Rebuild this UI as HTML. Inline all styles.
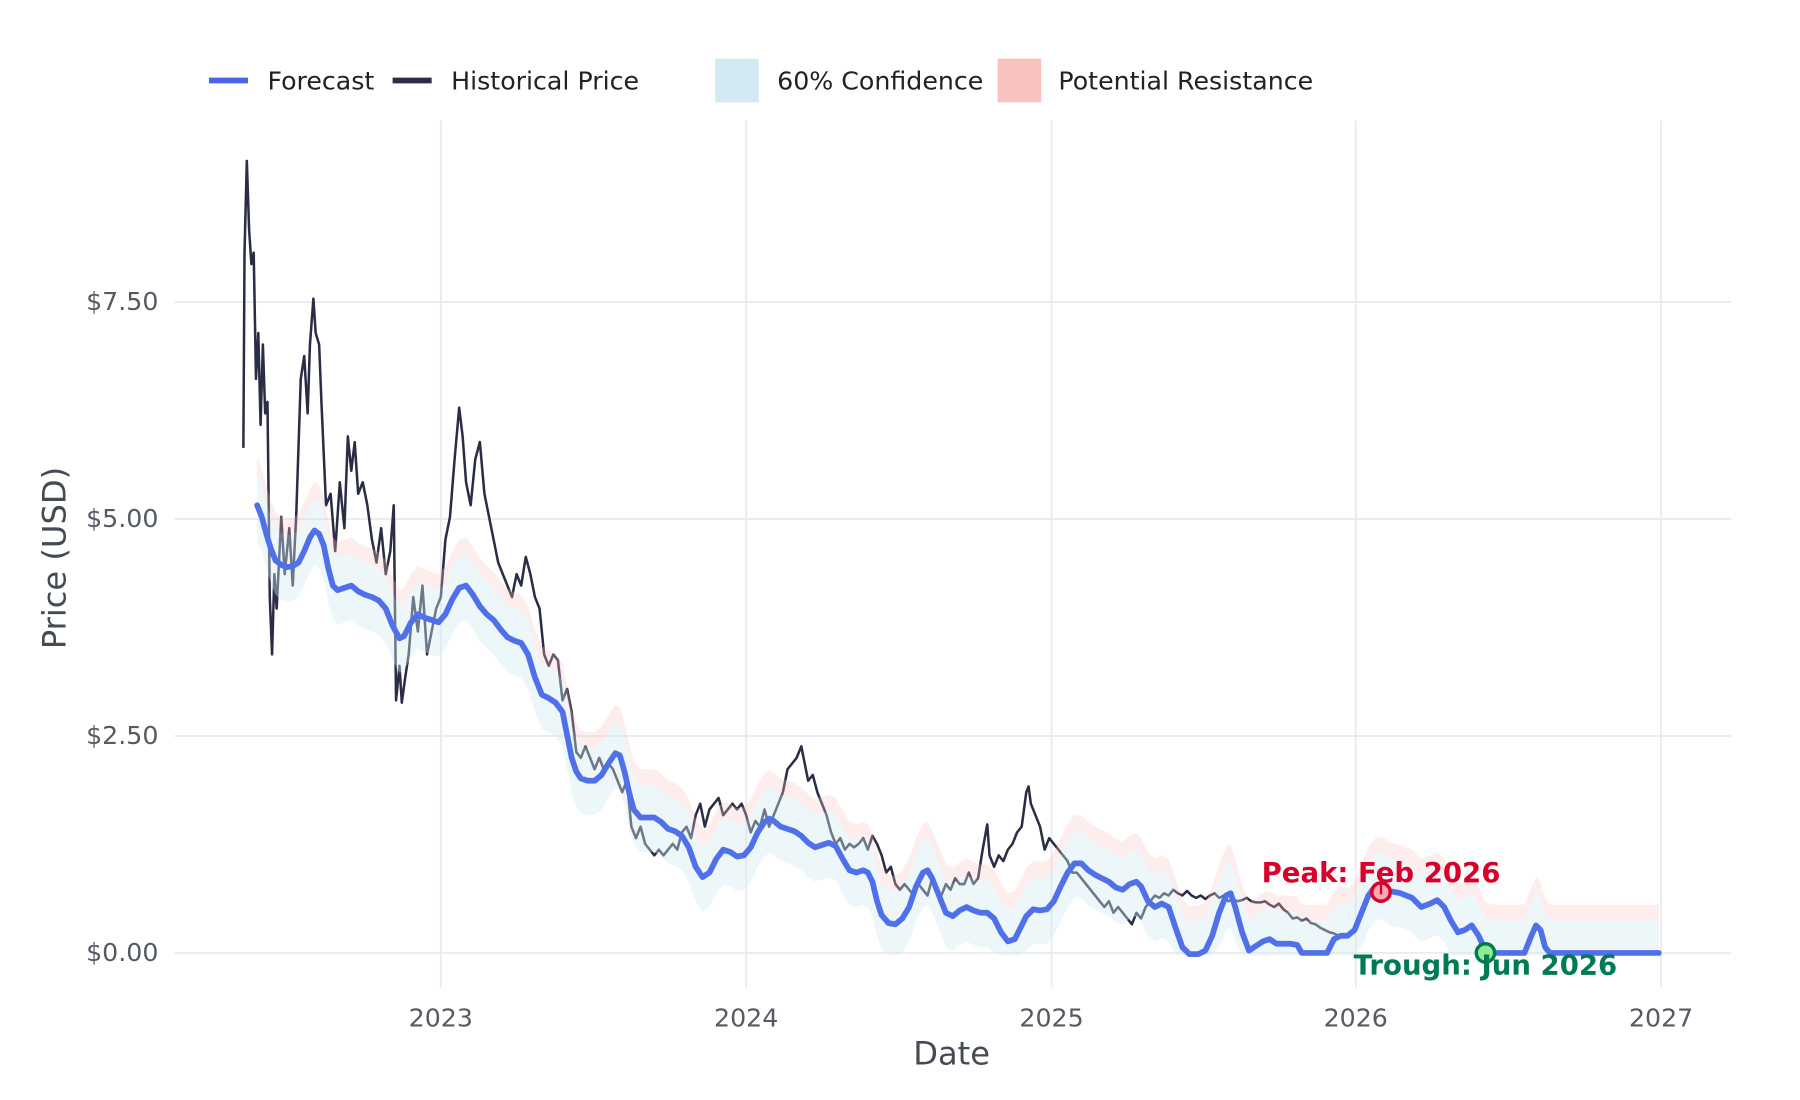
<!DOCTYPE html>
<html><head><meta charset="utf-8"><style>
html,body{margin:0;padding:0;background:#fff;}
svg{display:block;font-family:"DejaVu Sans","Liberation Sans",sans-serif;}
</style></head><body>
<svg id="s" width="1800" height="1100" viewBox="0 0 1568 958" xmlns="http://www.w3.org/2000/svg">
<rect width="1568" height="958" fill="#fff"/>
<g stroke="#e8eaee" stroke-width="1.5">
<line x1="384" y1="105" x2="384" y2="860"/><line x1="650" y1="105" x2="650" y2="860"/>
<line x1="916" y1="105" x2="916" y2="860"/><line x1="1181" y1="105" x2="1181" y2="860"/>
<line x1="1447" y1="105" x2="1447" y2="860"/>
<line x1="152" y1="263" x2="1508" y2="263"/><line x1="152" y1="452" x2="1508" y2="452"/>
<line x1="152" y1="641" x2="1508" y2="641"/><line x1="152" y1="830" x2="1508" y2="830"/>
</g>
<g fill="#555a63" font-size="22" text-anchor="end">
<text x="138" y="270">$7.50</text><text x="138" y="459">$5.00</text>
<text x="138" y="648">$2.50</text><text x="138" y="837">$0.00</text>
</g>
<g fill="#555a63" font-size="22" text-anchor="middle">
<text x="384" y="894">2023</text><text x="650" y="894">2024</text><text x="916" y="894">2025</text>
<text x="1181" y="894">2026</text><text x="1447" y="894">2027</text>
</g>
<text x="829" y="927" font-size="28" fill="#444b55" text-anchor="middle">Date</text>
<text transform="translate(57,486) rotate(-90)" font-size="28" fill="#444b55" text-anchor="middle">Price (USD)</text>
<g id="hist"></g>
<g id="bands"></g>
<g id="fc"></g>
<circle cx="1203" cy="777" r="8" fill="#f7a8b5" stroke="#d9002a" stroke-width="3"/>
<line x1="1203" y1="770" x2="1203" y2="779" stroke="#d9002a" stroke-width="2"/>
<text x="1203" y="768" font-size="24" font-weight="bold" fill="#d9002a" text-anchor="middle">Peak: Feb 2026</text>
<circle cx="1294" cy="830" r="8" fill="#90ee90" stroke="#007a55" stroke-width="3"/>
<text x="1294" y="849" font-size="24" font-weight="bold" fill="#007a55" text-anchor="middle">Trough: Jun 2026</text>
<g font-size="22" fill="#222">
<line x1="182" y1="70" x2="216" y2="70" stroke="#4a63e8" stroke-width="5"/>
<text x="233" y="78">Forecast</text>
<line x1="342" y1="70" x2="376" y2="70" stroke="#2a2d45" stroke-width="5"/>
<text x="393" y="78">Historical Price</text>
<rect x="623" y="51" width="38" height="38" fill="#d3e9f1"/>
<text x="677" y="78">60% Confidence</text>
<rect x="869" y="51" width="38" height="38" fill="#f8c2bf"/>
<text x="922" y="78">Potential Resistance</text>
</g>
</svg>
<script>
var H=[[212,390],[213,220],[215,140],[217,200],[219,230],[221,220],[223,330],[225,290],[227,370],[229,300],[231,360],[233,350],[235,520],[237,570],[239,500],[241,530],[245,450],[248,500],[252,460],[255,510],[258,450],[262,330],[265,310],[268,360],[270,300],[273,260],[275,290],[278,300],[280,350],[284,440],[288,430],[292,480],[296,420],[300,460],[303,380],[306,410],[309,385],[312,430],[316,420],[320,440],[324,470],[328,490],[332,460],[336,500],[340,480],[343,440],[345,610],[348,580],[350,612],[353,590],[356,570],[360,520],[364,550],[368,510],[372,570],[376,550],[380,530],[384,520],[388,470],[392,450],[396,400],[400,355],[403,380],[406,420],[410,440],[414,400],[418,385],[422,430],[426,450],[430,470],[434,490],[438,500],[442,510],[446,520],[450,500],[454,510],[458,485],[462,500],[466,520],[470,530],[474,570],[478,580],[482,570],[486,575],[490,610],[494,600],[498,620],[502,655],[506,660],[510,650],[514,660],[518,670],[522,660],[526,670],[530,665],[534,670],[538,680],[542,690],[546,680],[550,720],[554,730],[558,720],[562,735],[566,740],[570,745],[574,740],[578,745],[582,740],[586,735],[590,740],[594,725],[598,720],[602,730],[606,710],[610,700],[614,720],[618,705],[622,700],[626,695],[630,710],[634,705],[638,700],[642,705],[646,700],[650,710],[654,725],[658,715],[662,720],[666,705],[670,720],[674,710],[678,700],[682,690],[686,670],[690,665],[694,660],[698,650],[700,660],[704,680],[708,675],[712,690],[716,700],[720,710],[724,725],[728,735],[732,730],[736,740],[740,735],[744,738],[748,735],[752,730],[756,740],[760,728],[764,735],[768,745],[772,760],[776,755],[780,770],[784,775],[788,770],[792,775],[796,780],[800,770],[804,775],[808,780],[812,765],[816,775],[820,780],[824,770],[828,775],[832,765],[836,770],[840,770],[844,760],[848,770],[852,765],[856,740],[860,718],[862,745],[866,755],[870,745],[874,750],[878,740],[882,735],[886,725],[890,720],[894,690],[896,685],[898,700],[902,710],[906,720],[910,740],[914,730],[918,735],[922,740],[926,745],[930,750],[934,760],[938,760],[942,765],[946,770],[950,775],[954,780],[958,785],[962,790],[966,785],[970,795],[974,790],[978,795],[982,800],[986,805],[990,795],[994,800],[998,790],[1002,785],[1006,780],[1010,782],[1014,778],[1018,780],[1022,775],[1026,778],[1030,780],[1034,776],[1038,780],[1042,782],[1046,780],[1050,783],[1054,780],[1058,778],[1062,782],[1066,780],[1070,785],[1074,783],[1078,785],[1082,784],[1086,782],[1090,785],[1094,786],[1098,786],[1102,785],[1106,788],[1110,790],[1114,787],[1118,792],[1122,795],[1126,800],[1130,799],[1134,802],[1138,800],[1142,804],[1146,805],[1150,808],[1154,810],[1158,812],[1162,813],[1166,815],[1170,815],[1175,816]];
var F=[[224,440],[228,450],[232,465],[236,478],[240,488],[245,492],[250,494],[255,493],[260,490],[265,480],[270,468],[274,462],[278,465],[282,475],[286,495],[290,510],[294,514],[300,512],[306,510],[312,515],[318,518],[324,520],[330,523],[336,530],[342,545],[348,556],[352,554],[358,542],[364,535],[370,538],[376,540],[382,542],[388,535],[394,522],[400,512],[406,510],[412,518],[418,528],[424,535],[430,540],[436,548],[442,555],[448,558],[454,560],[460,570],[466,590],[472,605],[478,608],[484,612],[490,620],[494,640],[498,660],[502,672],[506,678],[512,680],[518,680],[524,675],[530,665],[536,656],[540,658],[544,672],[548,690],[552,705],[558,712],[564,712],[570,712],[576,716],[582,722],[588,724],[594,728],[600,738],[606,755],[612,764],[618,760],[624,748],[630,740],[636,742],[642,746],[648,745],[654,738],[660,725],[666,716],[670,713],[674,715],[680,720],[686,722],[692,724],[698,728],[704,734],[710,738],[716,736],[722,734],[728,737],[734,748],[740,758],[746,760],[752,758],[756,760],[760,768],[764,785],[768,797],[774,804],[780,805],[786,800],[792,790],[798,772],[804,760],[808,758],[812,765],[818,780],[824,795],[830,798],[836,793],[842,790],[848,793],[854,795],[860,795],[866,800],[872,812],[878,820],[884,818],[888,810],[894,798],[900,792],[906,793],[912,792],[918,785],[924,772],[930,760],[936,752],[942,752],[948,758],[954,762],[960,765],[966,768],[972,773],[978,775],[984,770],[990,768],[994,772],[1000,785],[1006,790],[1012,787],[1018,790],[1024,808],[1030,825],[1036,831],[1044,831],[1050,828],[1056,815],[1062,795],[1068,780],[1072,778],[1076,790],[1082,812],[1088,828],[1094,824],[1100,820],[1106,818],[1112,822],[1118,822],[1124,822],[1130,823],[1134,830],[1156,830],[1162,818],[1168,815],[1174,815],[1180,810],[1186,795],[1192,780],[1198,772],[1204,770],[1210,776],[1220,778],[1230,782],[1238,790],[1246,787],[1252,784],[1258,790],[1264,802],[1270,812],[1276,810],[1282,806],[1288,815],[1294,828],[1300,830],[1328,830],[1334,815],[1338,806],[1342,810],[1346,825],[1350,830],[1445,830]];
function pts(a){return a.map(function(p){return p[0]+','+p[1]}).join(' ');}
var NS='http://www.w3.org/2000/svg';
function add(g,tag,attrs){var e=document.createElementNS(NS,tag);for(var k in attrs)e.setAttribute(k,attrs[k]);document.getElementById(g).appendChild(e);}
add('hist','polyline',{points:pts(H),fill:'none',stroke:'#2a2d45','stroke-width':2.2,'stroke-linejoin':'round'});
var up=F.map(function(p){return [p[0],p[1]-28]}),lo=F.map(function(p){return [p[0],Math.min(832,p[1]+30)]});
var rs=F.map(function(p){return [p[0],p[1]-42]});
add('bands','polygon',{points:pts(rs.concat(up.slice().reverse())),fill:'#f8c2bf','fill-opacity':0.3});
add('bands','polygon',{points:pts(up.concat(lo.slice().reverse())),fill:'#d3e9f1','fill-opacity':0.4});
add('fc','polyline',{points:pts(F),fill:'none',stroke:'#5070ea','stroke-width':5,'stroke-linejoin':'round','stroke-linecap':'round'});
</script>
</body></html>
